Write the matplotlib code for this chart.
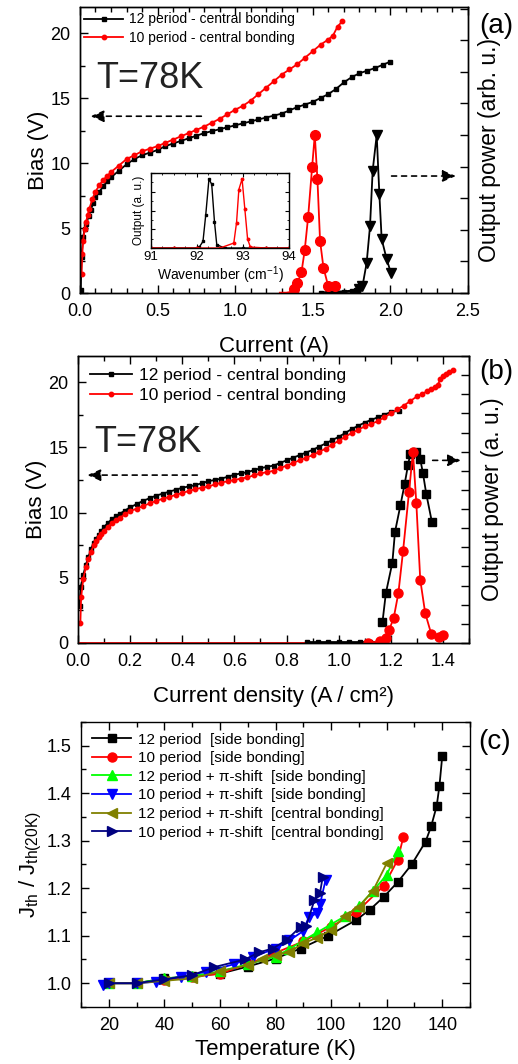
import matplotlib
matplotlib.use("Agg")
import matplotlib.pyplot as plt
from matplotlib.ticker import MultipleLocator, NullFormatter

plt.rcParams['font.family'] = ['Liberation Sans', 'DejaVu Sans']
plt.rcParams['mathtext.fontset'] = 'custom'
plt.rcParams['mathtext.rm'] = 'Liberation Sans'
plt.rcParams['mathtext.it'] = 'Liberation Sans:italic'
plt.rcParams['axes.linewidth'] = 1.0

# ---- panel (a): bias vs current ----
I_a12 = [0.005, 0.01, 0.02, 0.03, 0.04, 0.055, 0.07, 0.085, 0.10, 0.125, 0.15, 0.175, 0.20,
         0.25, 0.30, 0.35, 0.40, 0.45, 0.50, 0.55, 0.60, 0.65, 0.70, 0.75, 0.80, 0.85, 0.90,
         0.95, 1.00, 1.05, 1.10, 1.15, 1.20, 1.25, 1.30, 1.35, 1.40, 1.45, 1.50, 1.55, 1.60,
         1.65, 1.70, 1.75, 1.80, 1.85, 1.90, 1.95, 2.00]
V_a12 = [0.2, 2.8, 4.3, 4.9, 5.3, 5.9, 6.4, 6.9, 7.4, 7.8, 8.2, 8.6, 8.9,
         9.4, 9.9, 10.3, 10.6, 10.8, 11.0, 11.3, 11.5, 11.7, 11.9, 12.1, 12.3, 12.45, 12.6,
         12.75, 12.9, 13.05, 13.2, 13.35, 13.5, 13.65, 13.8, 14.05, 14.3, 14.5, 14.7, 15.0, 15.3,
         15.7, 16.2, 16.6, 16.9, 17.1, 17.3, 17.55, 17.8]
I_a10 = [0.01, 0.015, 0.02, 0.03, 0.04, 0.05, 0.06, 0.08, 0.10, 0.125, 0.15, 0.175, 0.20,
         0.25, 0.30, 0.35, 0.40, 0.45, 0.50, 0.55, 0.60, 0.65, 0.70, 0.75, 0.80, 0.85, 0.90,
         0.95, 1.00, 1.05, 1.10, 1.15, 1.20, 1.25, 1.30, 1.35, 1.40, 1.45, 1.50, 1.55, 1.60,
         1.63, 1.66, 1.69]
V_a10 = [1.5, 3.0, 4.0, 4.9, 5.5, 6.0, 6.5, 7.2, 7.8, 8.3, 8.7, 9.0, 9.3,
         9.8, 10.3, 10.6, 10.9, 11.1, 11.3, 11.55, 11.8, 12.05, 12.3, 12.55, 12.8, 13.1, 13.4,
         13.75, 14.1, 14.4, 14.8, 15.3, 15.8, 16.3, 16.8, 17.2, 17.6, 18.1, 18.6, 19.1, 19.5,
         19.8, 20.5, 20.9]

# output power (arb. u.)
I_a12_base = [1.55, 1.60, 1.65, 1.70, 1.75, 1.78]
P_a12_base = [0.0, 0.004, 0.006, 0.008, 0.012, 0.02]
I_a12_L = [1.80, 1.82, 1.847, 1.869, 1.886, 1.912, 1.929, 1.944, 1.976, 2.004]
P_a12_L = [0.025, 0.042, 0.19, 0.425, 0.775, 1.0, 0.627, 0.341, 0.215, 0.126]
I_a10_base = [1.29, 1.33, 1.36]
P_a10_base = [0.0, 0.0, 0.005]
I_a10_L = [1.379, 1.401, 1.427, 1.448, 1.47, 1.496, 1.513, 1.53, 1.547, 1.569, 1.599, 1.642]
P_a10_L = [0.025, 0.063, 0.13, 0.27, 0.48, 0.80, 1.0, 0.72, 0.33, 0.16, 0.046, 0.046]

# inset spectra
wn_12 = [91.0, 91.5, 92.0, 92.05, 92.13, 92.19, 92.26, 92.32, 92.38, 92.43, 92.6, 93.0, 93.5, 94.0]
sp_12 = [0.0, 0.0, 0.0, 0.013, 0.088, 0.44, 0.92, 0.85, 0.35, 0.044, 0.0, 0.0, 0.0, 0.0]
wn_10 = [91.0, 91.5, 92.0, 92.5, 92.80, 92.86, 92.91, 92.98, 93.04, 93.10, 93.16, 93.5, 94.0]
sp_10 = [0.0, 0.0, 0.0, 0.0, 0.066, 0.34, 0.78, 0.92, 0.52, 0.12, 0.013, 0.0, 0.0]

# ---- panel (b): bias vs current density ----
J_b12 = [0.006, 0.01, 0.02, 0.03, 0.04, 0.05, 0.06, 0.07, 0.08, 0.09, 0.10, 0.115, 0.13,
         0.145, 0.16, 0.18, 0.20, 0.225, 0.25, 0.275, 0.30, 0.325, 0.35, 0.375, 0.40, 0.425,
         0.45, 0.475, 0.50, 0.525, 0.55, 0.575, 0.60, 0.625, 0.65, 0.675, 0.70, 0.725, 0.75,
         0.775, 0.80, 0.825, 0.85, 0.875, 0.90, 0.925, 0.95, 0.975, 1.00, 1.025, 1.05, 1.075,
         1.10, 1.125, 1.15, 1.175, 1.20, 1.23]
V_b12 = [2.8, 4.3, 5.2, 6.0, 6.6, 7.2, 7.7, 8.0, 8.3, 8.6, 8.9, 9.2, 9.5,
         9.7, 9.9, 10.15, 10.4, 10.65, 10.9, 11.1, 11.3, 11.45, 11.6, 11.75, 11.9, 12.0,
         12.1, 12.25, 12.4, 12.5, 12.6, 12.75, 12.9, 13.0, 13.1, 13.25, 13.4, 13.5, 13.6,
         13.8, 14.0, 14.2, 14.4, 14.6, 14.8, 15.05, 15.3, 15.55, 15.8, 16.1, 16.4, 16.65,
         16.9, 17.1, 17.3, 17.5, 17.7, 17.8]
J_b10 = [0.009, 0.012, 0.02, 0.03, 0.04, 0.05, 0.06, 0.07, 0.08, 0.09, 0.10, 0.115, 0.13,
         0.145, 0.16, 0.18, 0.20, 0.225, 0.25, 0.275, 0.30, 0.325, 0.35, 0.375, 0.40, 0.425,
         0.45, 0.475, 0.50, 0.525, 0.55, 0.575, 0.60, 0.625, 0.65, 0.675, 0.70, 0.725, 0.75,
         0.775, 0.80, 0.825, 0.85, 0.875, 0.90, 0.925, 0.95, 0.975, 1.00, 1.025, 1.05, 1.075,
         1.10, 1.125, 1.15, 1.175, 1.20, 1.225, 1.25, 1.275, 1.30, 1.32, 1.34, 1.355, 1.37,
         1.38, 1.39, 1.40, 1.41, 1.425, 1.44]
V_b10 = [1.5, 3.5, 4.9, 5.8, 6.4, 7.0, 7.5, 7.8, 8.1, 8.35, 8.6, 8.9, 9.2,
         9.4, 9.6, 9.85, 10.1, 10.3, 10.5, 10.7, 10.9, 11.05, 11.2, 11.35, 11.5, 11.65,
         11.8, 11.9, 12.0, 12.15, 12.3, 12.4, 12.5, 12.6, 12.7, 12.85, 13.0, 13.1, 13.2,
         13.4, 13.6, 13.8, 14.0, 14.2, 14.4, 14.65, 14.9, 15.2, 15.5, 15.8, 16.1, 16.35,
         16.6, 16.8, 17.0, 17.3, 17.6, 17.9, 18.2, 18.55, 18.9, 19.1, 19.3, 19.45, 19.6,
         19.8, 20.2, 20.5, 20.6, 20.75, 20.9]

J_b12_base = [0.88, 0.92, 0.96, 1.00, 1.04, 1.08, 1.12, 1.15]
P_b12_base = [0.005, 0.005, 0.005, 0.005, 0.005, 0.005, 0.005, 0.005]
J_b12_L = [1.168, 1.181, 1.206, 1.216, 1.237, 1.253, 1.266, 1.275, 1.298, 1.313, 1.323, 1.336, 1.358]
P_b12_L = [0.108, 0.26, 0.42, 0.58, 0.72, 0.83, 0.93, 0.99, 1.0, 0.96, 0.89, 0.78, 0.63]
J_b10_base = [0.0, 0.2, 0.4, 0.6, 0.8, 1.0, 1.113]
P_b10_base = [0.0, 0.0, 0.0, 0.0, 0.0, 0.0, 0.0]
J_b10_L = [1.113, 1.157, 1.18, 1.193, 1.211, 1.229, 1.247, 1.27, 1.285, 1.298, 1.313, 1.332,
           1.355, 1.385, 1.40]
P_b10_L = [0.0, 0.009, 0.026, 0.066, 0.13, 0.26, 0.48, 0.79, 1.0, 0.73, 0.33, 0.156,
           0.048, 0.031, 0.04]

# ---- panel (c): threshold vs temperature ----
T_12s = [20, 30, 40, 50, 60, 70, 80, 89, 99, 109, 114, 119, 124, 129, 134, 136, 138, 139, 140]
R_12s = [1.0, 1.0, 1.01, 1.015, 1.02, 1.035, 1.052, 1.073, 1.1, 1.133, 1.155, 1.182, 1.213,
         1.25, 1.298, 1.33, 1.373, 1.416, 1.478]
T_10s = [20, 30, 40, 50, 60, 70, 80, 90, 100, 109, 119, 124, 126]
R_10s = [1.0, 1.0, 1.007, 1.013, 1.02, 1.04, 1.064, 1.088, 1.119, 1.149, 1.205, 1.26, 1.308]
T_12ps = [20, 30, 40, 50, 60, 70, 80, 85, 90, 95, 100, 105, 110, 115, 120, 124]
R_12ps = [1.0, 1.0, 1.01, 1.015, 1.025, 1.04, 1.056, 1.072, 1.09, 1.107, 1.124, 1.141, 1.162,
          1.194, 1.228, 1.278]
T_10ps = [18, 20, 30, 37, 46, 55, 65, 72, 80, 85, 90, 92, 95, 96, 98]
R_10ps = [0.997, 1.0, 1.0, 1.003, 1.014, 1.024, 1.04, 1.056, 1.073, 1.09, 1.11, 1.14, 1.147,
          1.166, 1.217]
T_12pc = [20, 30, 40, 50, 60, 70, 75, 80, 85, 90, 95, 100, 105, 110, 115, 120]
R_12pc = [1.0, 1.0, 1.005, 1.01, 1.025, 1.038, 1.05, 1.059, 1.066, 1.084, 1.096, 1.112, 1.141,
          1.161, 1.194, 1.252]
T_10pc = [20, 30, 40, 50, 58, 69, 74, 79, 84, 89, 91, 94, 96, 97]
R_10pc = [1.0, 1.0, 1.008, 1.017, 1.034, 1.05, 1.065, 1.073, 1.091, 1.119, 1.12, 1.175, 1.19,
          1.224]

fig = plt.figure(figsize=(5.18, 10.64), dpi=100)


def style_ax(ax, top=True, right=True):
    ax.tick_params(which='both', direction='in', top=top, right=right, labelsize=13)
    ax.tick_params(which='major', length=6, width=1, pad=7)
    ax.tick_params(which='minor', length=3.5, width=1)


def dashed_arrow(ax, x0, x1, y):
    ax.annotate('', xy=(x1, y), xytext=(x0, y),
                arrowprops=dict(arrowstyle='-|>,head_length=0.8,head_width=0.35',
                                linestyle=(0, (3, 3)), color='black', lw=1.2))


# ---------------- (a) ----------------
axa = fig.add_axes([0.1544, 0.7246, 0.749, 0.2688])
axa.plot(I_a12, V_a12, '-s', color='black', ms=2.8, lw=1.3, label='12 period - central bonding')
axa.plot(I_a10, V_a10, '-o', color='red', ms=3.2, lw=1.3, label='10 period - central bonding')
axa.set_xlim(0, 2.5)
axa.set_ylim(0, 22)
axa.xaxis.set_major_locator(MultipleLocator(0.5))
axa.xaxis.set_minor_locator(MultipleLocator(0.1))
axa.yaxis.set_major_locator(MultipleLocator(5))
axa.yaxis.set_minor_locator(MultipleLocator(2.5))
style_ax(axa, right=False)
axa.set_xlabel('Current (A)', fontsize=16, labelpad=12)
axa.set_ylabel('Bias (V)', fontsize=16, labelpad=1)
axa.legend(loc='upper left', bbox_to_anchor=(-0.01, 1.01), frameon=False, fontsize=10,
           handlelength=2.8, handletextpad=0.4, labelspacing=0.3, borderaxespad=0.2)
axa.text(0.108, 15.8, 'T=78K', fontsize=26, color='#222222')
dashed_arrow(axa, 0.8, 0.05, 13.6)
dashed_arrow(axa, 1.99, 2.44, 9.0)

axa2 = axa.twinx()
axa2.plot(I_a12_base, P_a12_base, '-s', color='black', ms=2.5, lw=2)
axa2.plot(I_a12_L, P_a12_L, '-v', color='black', ms=7, lw=1.3)
axa2.plot(I_a10_base, P_a10_base, '-', color='red', lw=1.8)
axa2.plot(I_a10_L, P_a10_L, '-o', color='red', ms=7, lw=1.3)
axa2.set_ylim(0, 1.81)
axa2.yaxis.set_major_locator(MultipleLocator(0.2))
axa2.yaxis.set_major_formatter(NullFormatter())
axa2.tick_params(axis='y', direction='in', length=6, width=1)
axa2.set_ylabel('Output power (arb. u.)', fontsize=16.5, labelpad=4)

# inset
axi = fig.add_axes([0.2915, 0.7669, 0.2664, 0.0705])
axi.plot(wn_12, sp_12, '-s', color='black', ms=1.8, lw=1)
axi.plot(wn_10, sp_10, '-o', color='red', ms=1.8, lw=1)
axi.set_xlim(91, 94)
axi.set_ylim(0, 1.0)
axi.xaxis.set_major_locator(MultipleLocator(1))
axi.xaxis.set_minor_locator(MultipleLocator(0.25))
axi.yaxis.set_major_locator(MultipleLocator(0.25))
axi.yaxis.set_minor_locator(MultipleLocator(0.125))
axi.yaxis.set_major_formatter(NullFormatter())
axi.tick_params(which='both', direction='in', top=True, right=True, labelsize=9.5, pad=2)
axi.tick_params(which='major', length=3)
axi.tick_params(which='minor', length=1.5)
axi.set_xlabel('Wavenumber (cm$^{-1}$)', fontsize=10, labelpad=1)
axi.set_ylabel('Output (a. u.)', fontsize=8.5, labelpad=2)

# ---------------- (b) ----------------
axb = fig.add_axes([0.1506, 0.3957, 0.7548, 0.2697])
axb.plot(J_b12, V_b12, '-s', color='black', ms=2.8, lw=1.3, label='12 period - central bonding')
axb.plot(J_b10, V_b10, '-o', color='red', ms=3.2, lw=1.3, label='10 period - central bonding')
axb.set_xlim(0, 1.5)
axb.set_ylim(0, 22)
axb.xaxis.set_major_locator(MultipleLocator(0.2))
axb.xaxis.set_minor_locator(MultipleLocator(0.1))
axb.yaxis.set_major_locator(MultipleLocator(5))
axb.yaxis.set_minor_locator(MultipleLocator(2.5))
style_ax(axb, right=False)
axb.set_xticks([0.0, 0.2, 0.4, 0.6, 0.8, 1.0, 1.2, 1.4])
axb.set_xlabel('Current density (A / cm²)', fontsize=16, labelpad=12)
axb.set_ylabel('Bias (V)', fontsize=16, labelpad=1)
axb.legend(loc='upper left', bbox_to_anchor=(0.0, 1.0), frameon=False, fontsize=12.5,
           handlelength=2.4, handletextpad=0.4, labelspacing=0.25, borderaxespad=0.3)
axb.text(0.064, 14.65, 'T=78K', fontsize=26, color='#222222')
dashed_arrow(axb, 0.468, 0.025, 12.87)
dashed_arrow(axb, 1.35, 1.48, 14.0)

axb2 = axb.twinx()
axb2.plot(J_b10_base, P_b10_base, '-', color='red', lw=2)
axb2.plot(J_b12_base, P_b12_base, '-s', color='black', ms=2.5, lw=2)
axb2.plot(J_b12_L, P_b12_L, '-s', color='black', ms=6, lw=1.3)
axb2.plot(J_b10_L, P_b10_L, '-o', color='red', ms=6.5, lw=1.3)
axb2.set_ylim(0, 1.5)
axb2.yaxis.set_major_locator(MultipleLocator(0.1))
axb2.yaxis.set_major_formatter(NullFormatter())
axb2.tick_params(axis='y', direction='in', length=6, width=1)
axb2.set_ylabel('Output power (a. u.)', fontsize=16.5, labelpad=5)

# ---------------- (c) ----------------
axc = fig.add_axes([0.1564, 0.0536, 0.751, 0.2679])
axc.plot(T_12s, R_12s, '-s', color='black', ms=6, lw=1.3, label='12 period  [side bonding]')
axc.plot(T_10s, R_10s, '-o', color='red', ms=6.5, lw=1.3, label='10 period  [side bonding]')
axc.plot(T_12ps, R_12ps, '-^', color='#00ff00', ms=6.5, lw=1.3,
         label='12 period + π-shift  [side bonding]')
axc.plot(T_10ps, R_10ps, '-v', color='#0000ff', ms=6.5, lw=1.3,
         label='10 period + π-shift  [side bonding]')
axc.plot(T_12pc, R_12pc, '-<', color='#808000', ms=6.5, lw=1.3,
         label='12 period + π-shift  [central bonding]')
axc.plot(T_10pc, R_10pc, '->', color='#000080', ms=6.5, lw=1.3,
         label='10 period + π-shift  [central bonding]')
axc.set_xlim(10, 150)
axc.set_ylim(0.95, 1.55)
axc.xaxis.set_major_locator(MultipleLocator(20))
axc.xaxis.set_minor_locator(MultipleLocator(10))
axc.yaxis.set_major_locator(MultipleLocator(0.1))
axc.yaxis.set_minor_locator(MultipleLocator(0.05))
style_ax(axc)
axc.set_xlabel('Temperature (K)', fontsize=16, labelpad=4)
axc.set_ylabel(r'J$_\mathrm{th}$ / J$_\mathrm{th(20K)}$', fontsize=16, labelpad=2)
axc.legend(loc='upper left', frameon=False, fontsize=11, handlelength=2.6,
           handletextpad=0.4, labelspacing=0.3, borderaxespad=0.3)

# panel letters
fig.text(0.959, 0.9755, '(a)', fontsize=20, ha='center', va='center')
fig.text(0.959, 0.650, '(b)', fontsize=20, ha='center', va='center')
fig.text(0.954, 0.3025, '(c)', fontsize=20, ha='center', va='center')

fig.savefig('out.png', dpi=100)
